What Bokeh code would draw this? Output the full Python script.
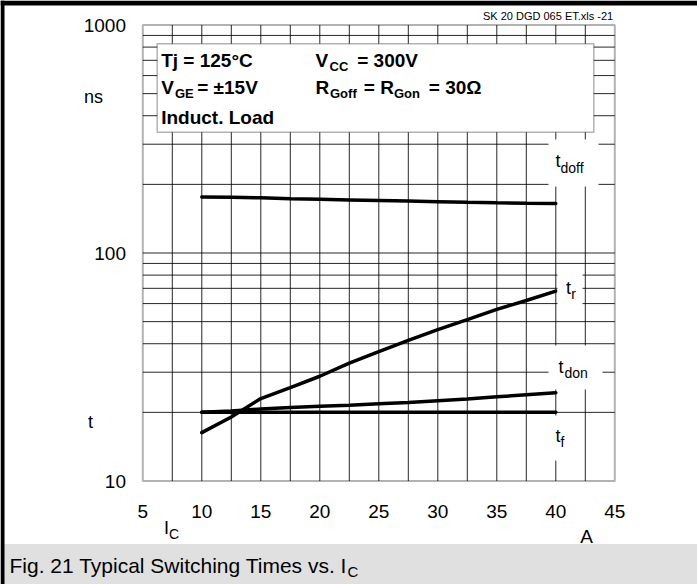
import numpy as np
from bokeh.plotting import figure
from bokeh.models import Label, BoxAnnotation, Range1d
from bokeh.core.properties import value
from bokeh.embed import file_html
from bokeh.resources import INLINE

# ---------------- data ----------------
ic = [10, 12.5, 15, 17.5, 20, 22.5, 25, 27.5, 30, 32.5, 35, 37.5, 40]
t_doff = [176, 175.5, 174.5, 173, 172, 171, 170, 169, 168, 166.8, 166, 165.3, 164.7]
t_r = [16.3, 19.1, 23.0, 25.7, 28.8, 32.9, 36.9, 41.4, 46.1, 51.0, 56.6, 61.9, 68.1]
t_don = [20.0, 20.3, 20.7, 21.0, 21.3, 21.5, 21.8, 22.1, 22.5, 22.9, 23.4, 23.9, 24.4]
t_f = [20, 20, 20, 20, 20, 20, 20, 20, 20, 20, 20, 20, 20]

x_ticks = [5, 10, 15, 20, 25, 30, 35, 40, 45]
x_tick_labels = ["5", "10", "15", "20", "25", "30", "35", "40", "45"]
y_ticks = [10, 100, 1000]
y_tick_labels = ["10", "100", "1000"]
x_grid = [7.5, 10, 12.5, 15, 17.5, 20, 22.5, 25, 27.5, 30, 32.5, 35, 37.5, 40, 42.5]
y_grid = [20, 30, 40, 50, 60, 70, 80, 90, 100, 200, 300, 400, 500, 600, 700, 800, 900]

FONT = "Liberation Sans"

# ---------------- geometry (pixels of the 697x584 canvas) ----------------
W, H = 697, 584
PL, PR, PT, PB = 142.3, 614.3, 24.5, 480.5     # plot-area edges
XMIN, XMAX = x_ticks[0], x_ticks[-1]
YMIN, YMAX = y_ticks[0], y_ticks[-1]
SX = (PR - PL) / (XMAX - XMIN)                  # px per A
DEC = (PB - PT) / np.log10(YMAX / YMIN)         # px per decade


def X(px):
    return XMIN + (px - PL) / SX


def Y(py):
    return YMIN * 10 ** ((PB - py) / DEC)


p = figure(width=W, height=H,
           x_range=Range1d(X(0), X(W)), y_range=Range1d(Y(H), Y(0)),
           y_axis_type="log", x_axis_location=None, y_axis_location=None,
           output_backend="svg", toolbar_location=None, min_border=0)
p.grid.visible = False
p.outline_line_color = None
p.background_fill_color = "white"
p.border_fill_color = "white"

# caption band and outer border
p.add_layout(BoxAnnotation(top=Y(543.5), fill_color="#e0e0e0", fill_alpha=1,
                           line_color=None, level="underlay"))
p.add_layout(BoxAnnotation(top=Y(0), bottom=Y(5), fill_color="black", fill_alpha=1,
                           line_color=None, level="overlay"))
p.add_layout(BoxAnnotation(left=X(0), right=X(4), fill_color="black", fill_alpha=1,
                           line_color=None, level="overlay"))

# grid lines
p.segment(x0=x_grid, y0=[YMIN] * len(x_grid), x1=x_grid, y1=[YMAX] * len(x_grid),
          line_color="black", line_alpha=0.85, line_width=1)
p.segment(x0=[XMIN] * len(y_grid), y0=y_grid, x1=[XMAX] * len(y_grid), y1=y_grid,
          line_color="black", line_alpha=0.85, line_width=1)

# tick labels
p.text(x=x_ticks, y=[Y(510.5)] * len(x_ticks), text=x_tick_labels,
       text_font=value(FONT), text_font_size=value("19px"), text_color="black",
       text_align="center", text_baseline="middle")
p.text(x=[X(125.5)] * len(y_ticks), y=y_ticks, text=y_tick_labels,
       text_font=value(FONT), text_font_size=value("19px"), text_color="black",
       text_align="right", text_baseline="middle")

# curves
for ys in (t_doff, t_r, t_don, t_f):
    p.line(ic, ys, line_color="black", line_width=3.5, line_cap="round")

# plot frame
p.add_layout(BoxAnnotation(left=XMIN, right=XMAX, bottom=YMIN, top=YMAX,
                           fill_alpha=0, line_color="black", line_width=2,
                           level="annotation"))

# white boxes behind curve labels
for (l, r, t, b) in [(548, 598, 139, 186), (557, 582, 269, 305),
                     (548, 602, 345, 389), (548, 568, 415, 460)]:
    p.add_layout(BoxAnnotation(left=X(l), right=X(r), top=Y(t), bottom=Y(b),
                               fill_color="white", fill_alpha=1,
                               line_color=None, level="annotation"))

# condition box
p.add_layout(BoxAnnotation(left=X(156.7), right=X(593.3), top=Y(43.3), bottom=Y(131.7),
                           fill_color="white", fill_alpha=1,
                           line_color="black", line_width=1.5, level="annotation"))


def lab(text, rx, ry, size, bold=False, align="left"):
    p.add_layout(Label(x=X(rx), y=Y(ry), text=text, text_font=FONT,
                       text_font_size=f"{size}px",
                       text_font_style="bold" if bold else "normal",
                       text_align=align, text_baseline="middle",
                       text_color="black"))


# condition texts
B, S = 19, 13
lab("Tj = 125°C", 160.7, 60, B, True)
lab("V", 315, 60, B, True)
lab("CC", 329, 66, S, True)
lab("= 300V", 356.7, 60, B, True)
lab("V", 160.7, 87, B, True)
lab("GE", 174.5, 93, S, True)
lab("= ±15V", 196.7, 87, B, True)
lab("R", 315, 87, B, True)
lab("Goff", 329.5, 93, S, True)
lab("= R", 363.3, 87, B, True)
lab("Gon", 393.5, 93, S, True)
lab("= 30Ω", 428.3, 87, B, True)
lab("Induct. Load", 160.7, 117, B, True)

# curve labels
lab("t", 555, 160, 18)
lab("doff", 560, 167, 14)
lab("t", 565.5, 287.5, 18)
lab("r", 570.7, 293, 14)
lab("t", 558, 366.5, 18)
lab("don", 564, 372, 14)
lab("t", 555, 435.5, 18)
lab("f", 560, 441, 14)

# axis texts
lab("ns", 93, 96, 18, align="center")
lab("t", 90, 421, 18, align="center")
lab("I", 163.5, 527, 18)
lab("C", 168.5, 533, 14)
lab("A", 586, 535.5, 19, align="center")
lab("SK 20 DGD 065 ET.xls -21", 612.7, 15, 11, align="right")

# caption
lab("Fig. 21 Typical Switching Times vs. I", 9, 565, 21)
lab("C", 347, 571, 15)

open("out.html", "w").write(file_html(p, INLINE))
